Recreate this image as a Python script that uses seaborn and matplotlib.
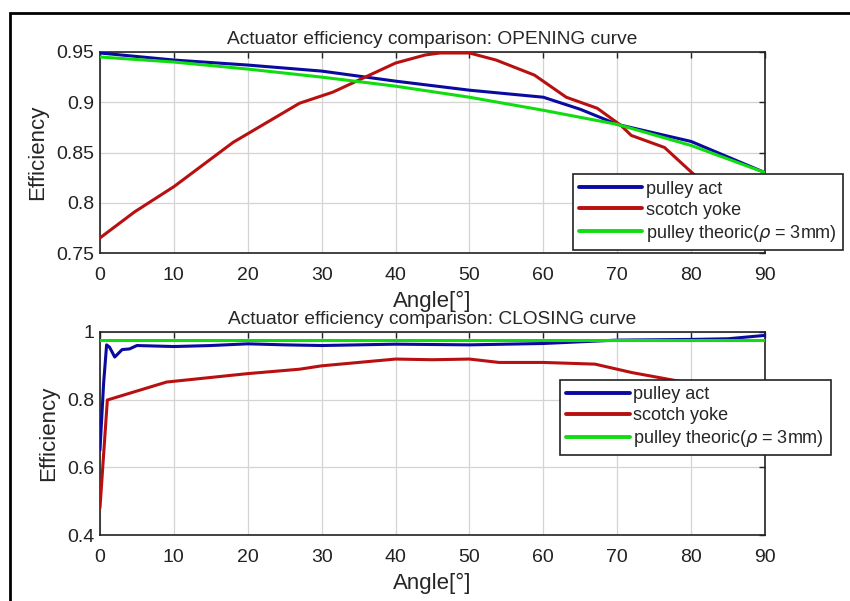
import numpy as np
import pandas as pd
import matplotlib
matplotlib.use("Agg")
import matplotlib.pyplot as plt
import seaborn as sns
from matplotlib.patches import Rectangle

# ---- data: OPENING curve ----
open_pulley_x = [0, 10, 20, 30, 40, 50, 60, 65, 70, 80, 90]
open_pulley_y = [0.949, 0.942, 0.937, 0.931, 0.921, 0.912, 0.905, 0.893, 0.878, 0.861, 0.830]
open_yoke_x = [0, 4.7, 10, 18, 27, 31.5, 40, 44, 46, 50, 53.6, 58.8, 63.1, 67.3, 70.5, 71.9, 76.4, 80.1, 85, 90]
open_yoke_y = [0.765, 0.791, 0.816, 0.860, 0.899, 0.910, 0.939, 0.947, 0.949, 0.949, 0.942, 0.927, 0.905, 0.894, 0.877, 0.867, 0.855, 0.830, 0.800, 0.770]
open_theo_x = [0, 10, 20, 30, 40, 50, 60, 70, 80, 90]
open_theo_y = [0.945, 0.940, 0.933, 0.925, 0.916, 0.905, 0.892, 0.878, 0.857, 0.830]

# ---- data: CLOSING curve ----
close_pulley_x = [0, 0.5, 0.9, 1.3, 2, 3, 4, 5, 10, 15, 20, 25, 30, 40, 50, 60, 70, 80, 85, 90]
close_pulley_y = [0.651, 0.85, 0.962, 0.955, 0.926, 0.948, 0.950, 0.960, 0.957, 0.960, 0.965, 0.962, 0.960, 0.964, 0.962, 0.966, 0.976, 0.978, 0.980, 0.990]
close_yoke_x = [0, 1, 9, 20, 27, 30, 35, 40, 45, 50, 54, 60, 67, 72, 77, 82, 90]
close_yoke_y = [0.480, 0.799, 0.852, 0.877, 0.890, 0.900, 0.910, 0.920, 0.918, 0.920, 0.910, 0.910, 0.905, 0.880, 0.860, 0.840, 0.800]
close_theo_x = [0, 90]
close_theo_y = [0.976, 0.976]

labels = ["pulley act", "scotch yoke", r"pulley theoric($\rho$ = 3mm)"]
colors = ["#0a0aa0", "#b81010", "#10dd10"]
x_ticks = [0, 10, 20, 30, 40, 50, 60, 70, 80, 90]

sns.set_style("white")
plt.rcParams['font.family'] = ['Liberation Sans', 'DejaVu Sans']

fig = plt.figure(figsize=(8.5, 6.01), dpi=100)
ax1 = fig.add_axes([0.1176, 0.579, 0.9 - 0.1176, 0.9135 - 0.579])
ax2 = fig.add_axes([0.1176, 0.1098, 0.9 - 0.1176, 0.4476 - 0.1098])

def draw(ax, series, ylim, yticks, yticklabels, title, legend_loc, legend_anchor):
    for (xs, ys), lab, c in zip(series, labels, colors):
        sns.lineplot(x=xs, y=ys, ax=ax, color=c, linewidth=2.2, label=lab, zorder=3)
    ax.set_xlim(0, 90)
    ax.set_ylim(*ylim)
    ax.set_xticks(x_ticks)
    ax.set_yticks(yticks)
    ax.set_yticklabels(yticklabels)
    ax.grid(True, color="#d4d4d4", linewidth=0.9)
    for s in ax.spines.values():
        s.set_color("#222222")
        s.set_linewidth(1.2)
        s.set_visible(True)
    ax.tick_params(direction="in", length=4, width=1.0, top=True, right=True,
                   labelsize=14, colors="#222222", pad=4)
    ax.tick_params(axis="x", pad=10)
    ax.set_title(title, fontsize=13.8, pad=6)
    ax.set_xlabel("Angle[°]", fontsize=16, labelpad=5)
    ax.set_ylabel("Efficiency", fontsize=16, labelpad=6)
    leg = ax.legend(loc=legend_loc, bbox_to_anchor=legend_anchor, frameon=True,
                    fancybox=False, framealpha=1, edgecolor="#222222",
                    fontsize=13, handlelength=3.5, handletextpad=0.2,
                    borderpad=0.35, labelspacing=0.22, borderaxespad=0)
    leg.get_frame().set_linewidth(1.2)
    for h in leg.get_lines():
        h.set_linewidth(2.8)
    leg.set_zorder(10)

draw(ax1, [(open_pulley_x, open_pulley_y), (open_yoke_x, open_yoke_y), (open_theo_x, open_theo_y)],
     (0.75, 0.95), [0.75, 0.8, 0.85, 0.9, 0.95], ["0.75", "0.8", "0.85", "0.9", "0.95"],
     "Actuator efficiency comparison: OPENING curve", "lower left", (0.711, 0.015))
draw(ax2, [(close_pulley_x, close_pulley_y), (close_yoke_x, close_yoke_y), (close_theo_x, close_theo_y)],
     (0.4, 1.0), [0.4, 0.6, 0.8, 1.0], ["0.4", "0.6", "0.8", "1"],
     "Actuator efficiency comparison: CLOSING curve", "upper left", (0.692, 0.764))

# figure border
fig.patches.append(Rectangle((10 / 850, -0.05), 1.0, 1 - 13 / 601 + 0.05,
                             transform=fig.transFigure, fill=False,
                             edgecolor="black", linewidth=2.0, clip_on=False))

fig.savefig("out.png", dpi=100)
